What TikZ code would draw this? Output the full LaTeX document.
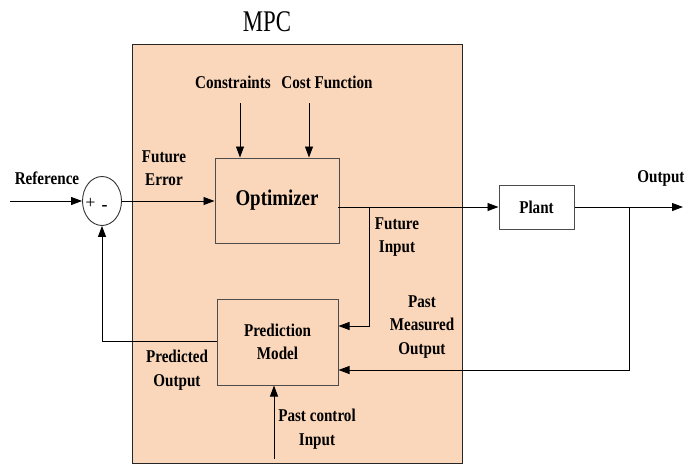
\documentclass[tikz,border=0pt]{standalone}
\usepackage{fontspec}
\setmainfont{Liberation Serif}
\newfontfamily\lblfont{Liberation Serif}[FakeStretch=0.84]
\newfontfamily\mpcfont{Liberation Serif}[FakeStretch=0.76]
\usetikzlibrary{arrows.meta,shapes.geometric}
\definecolor{mpcfill}{RGB}{250,214,186}
\begin{document}
\begin{tikzpicture}[x=1pt,y=-1pt,
  lbl/.style={font=\lblfont\bfseries\fontsize{18}{23.5}\selectfont, align=center, inner sep=0pt},
  blk/.style={draw=black!70, line width=1pt, inner sep=0pt},
  arr/.style={-{Triangle[length=11pt,width=8pt]}, line width=0.9pt},
  ln/.style={line width=0.9pt}]
\useasboundingbox (0,0) rectangle (688,466);
% MPC enclosure
\node[blk, draw=black!85, fill=mpcfill, minimum width=330pt, minimum height=419pt] (mpc) at (297,253.5) {};
\node[font=\mpcfont\fontsize{30}{32}\selectfont, inner sep=0pt] (mpclbl) at (267,22) {MPC};
% blocks
\node[blk, fill=mpcfill, minimum width=124pt, minimum height=85pt, font=\lblfont\bfseries\fontsize{22.5}{24}\selectfont] (opt) at (277,200.5) {Optimizer};
\node[blk, fill=white, minimum width=75pt, minimum height=44pt, font=\lblfont\bfseries\fontsize{18}{20}\selectfont] (plant) at (536.5,207) {Plant};
\node[blk, fill=mpcfill, minimum width=121pt, minimum height=86pt, align=center, font=\lblfont\bfseries\fontsize{18}{23.5}\selectfont] (pred) at (277.5,342) {Prediction\\Model};
\node[draw=black!80, line width=0.9pt, ellipse, minimum width=39pt, minimum height=49pt, inner sep=0pt] (sum) at (102,201) {};
\node[font=\fontsize{18}{18}\selectfont, inner sep=0pt] (plus) at (90.5,203) {+};
\node[font=\bfseries\fontsize{18}{18}\selectfont, inner sep=0pt] (minus) at (104.5,208) {-};
% labels
\node[lbl] (ref) at (47,178) {Reference};
\node[lbl] (ferr) at (164,168) {Future\\Error};
\node[lbl] (cons) at (233,82) {Constraints};
\node[lbl] (cost) at (327,82) {Cost Function};
\node[lbl] (finp) at (397,237) {Future\\Input};
\node[lbl] (pmo) at (422,327) {Past\\Measured\\Output};
\node[lbl] (pout) at (177,370) {Predicted\\Output};
\node[lbl] (pci) at (317,429) {Past control\\Input};
\node[lbl] (outl) at (661,178) {Output};
% coordinates
\coordinate (refin) at (10,201);
\coordinate (c1) at (240,103);
\coordinate (c2) at (309,103);
\coordinate (o1) at (338,207);
\coordinate (yout) at (683,207);
\coordinate (b1) at (629,207);
\coordinate (b2) at (629,370);
\coordinate (f1) at (369,207);
\coordinate (f2) at (369,326);
\coordinate (p1) at (102,341);
\coordinate (pc) at (274,459);
% connectors
\draw[arr] (refin) -- (sum.west);
\draw[arr] (sum.east) -- (sum.east -| opt.west);
\draw[arr] (c1) -- (c1 |- opt.north);
\draw[arr] (c2) -- (c2 |- opt.north);
\draw[arr] (o1) -- (o1 -| plant.west);
\draw[arr] (plant.east) -- (yout);
\draw[arr] (b1) -- (b2) -- (b2 -| pred.east);
\draw[arr] (f1) -- (f2) -- (f2 -| pred.east);
\draw[arr] (p1 -| pred.west) -- (p1) -- (sum.south);
\draw[arr] (pc) -- (pc |- pred.south);
\end{tikzpicture}
\end{document}
